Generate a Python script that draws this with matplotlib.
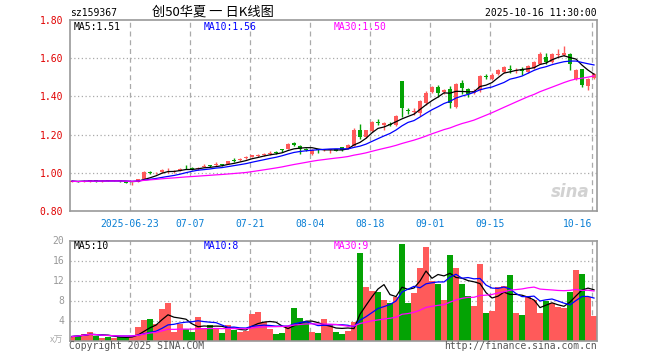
import matplotlib
matplotlib.use("Agg")
import matplotlib.pyplot as plt
import numpy as np
import pandas as pd

# ---------------- data ----------------
opens = [0.953, 0.956, 0.954, 0.956, 0.959, 0.955, 0.962, 0.957, 0.960, 0.955,
         0.944, 0.953, 0.968, 1.004, 0.997, 1.004, 1.008, 1.003, 1.012, 1.030,
         1.025, 1.018, 1.030, 1.037, 1.040, 1.045, 1.048, 1.066, 1.066, 1.077,
         1.085, 1.089, 1.094, 1.097, 1.108, 1.124, 1.125, 1.157, 1.140, 1.126,
         1.100, 1.122, 1.118, 1.117, 1.122, 1.133, 1.128, 1.140, 1.226, 1.185,
         1.218, 1.268, 1.250, 1.258, 1.250, 1.480, 1.330, 1.318, 1.313, 1.366,
         1.422, 1.450, 1.422, 1.439, 1.345, 1.471, 1.439, 1.420, 1.432, 1.508,
         1.492, 1.515, 1.530, 1.545, 1.535, 1.545, 1.530, 1.550, 1.572, 1.605,
         1.580, 1.615, 1.618, 1.622, 1.492, 1.542, 1.455, 1.497]
highs = [0.960, 0.958, 0.962, 0.963, 0.961, 0.962, 0.964, 0.963, 0.962, 0.957,
         0.950, 0.970, 1.008, 1.010, 1.004, 1.020, 1.026, 1.015, 1.026, 1.040,
         1.028, 1.030, 1.045, 1.040, 1.055, 1.048, 1.062, 1.075, 1.076, 1.086,
         1.094, 1.097, 1.104, 1.112, 1.112, 1.127, 1.155, 1.162, 1.145, 1.130,
         1.123, 1.126, 1.127, 1.125, 1.124, 1.135, 1.150, 1.232, 1.258, 1.226,
         1.273, 1.280, 1.268, 1.265, 1.302, 1.482, 1.340, 1.340, 1.383, 1.427,
         1.455, 1.462, 1.440, 1.453, 1.470, 1.488, 1.445, 1.440, 1.514, 1.515,
         1.520, 1.545, 1.560, 1.565, 1.550, 1.552, 1.565, 1.585, 1.630, 1.625,
         1.625, 1.650, 1.662, 1.628, 1.545, 1.545, 1.495, 1.522]
lows = [0.950, 0.950, 0.952, 0.953, 0.953, 0.953, 0.955, 0.955, 0.954, 0.944,
        0.934, 0.950, 0.966, 0.996, 0.993, 1.000, 0.998, 0.999, 1.008, 1.020,
        1.015, 1.015, 1.028, 1.030, 1.036, 1.038, 1.045, 1.057, 1.063, 1.072,
        1.082, 1.085, 1.090, 1.094, 1.100, 1.108, 1.122, 1.140, 1.098, 1.112,
        1.095, 1.105, 1.114, 1.105, 1.112, 1.115, 1.125, 1.138, 1.178, 1.180,
        1.215, 1.250, 1.225, 1.245, 1.245, 1.293, 1.310, 1.305, 1.296, 1.357,
        1.418, 1.397, 1.410, 1.340, 1.340, 1.410, 1.396, 1.412, 1.422, 1.490,
        1.488, 1.512, 1.525, 1.520, 1.525, 1.510, 1.520, 1.545, 1.570, 1.572,
        1.575, 1.605, 1.610, 1.540, 1.488, 1.450, 1.436, 1.492]
closes = [0.956, 0.953, 0.958, 0.959, 0.956, 0.959, 0.958, 0.960, 0.956, 0.948,
          0.947, 0.968, 1.006, 1.000, 1.000, 1.016, 1.010, 1.010, 1.022, 1.028,
          1.018, 1.026, 1.036, 1.035, 1.046, 1.042, 1.060, 1.063, 1.072, 1.082,
          1.091, 1.093, 1.101, 1.103, 1.106, 1.120, 1.152, 1.146, 1.122, 1.118,
          1.120, 1.118, 1.122, 1.122, 1.116, 1.120, 1.146, 1.226, 1.188, 1.222,
          1.265, 1.262, 1.262, 1.252, 1.296, 1.340, 1.325, 1.322, 1.375, 1.418,
          1.450, 1.418, 1.432, 1.366, 1.467, 1.446, 1.410, 1.430, 1.506, 1.502,
          1.514, 1.537, 1.552, 1.538, 1.540, 1.535, 1.558, 1.580, 1.622, 1.578,
          1.620, 1.620, 1.625, 1.572, 1.540, 1.462, 1.490, 1.518]
volumes = [0.8, 1.0, 1.4, 1.7, 1.0, 0.5, 0.7, 0.5, 0.7, 0.7,
           0.9, 2.7, 4.1, 4.3, 3.4, 6.3, 7.6, 1.7, 3.4, 2.3,
           1.7, 4.7, 2.4, 3.1, 2.5, 1.5, 3.1, 2.2, 1.7, 2.0,
           5.3, 5.7, 3.7, 2.3, 1.3, 1.6, 3.0, 6.5, 4.5, 3.7,
           1.7, 1.5, 4.3, 3.2, 1.8, 1.3, 1.9, 3.7, 17.5, 10.7,
           9.9, 9.7, 8.1, 7.5, 8.7, 19.3, 7.5, 9.5, 14.5, 18.7,
           12.0, 11.3, 8.1, 17.1, 14.5, 11.3, 8.9, 6.9, 15.3, 5.5,
           5.9, 10.7, 10.9, 13.1, 5.5, 5.1, 8.7, 8.1, 5.5, 7.9,
           7.5, 6.7, 6.6, 9.7, 14.1, 13.3, 8.7, 4.9]

tick_dates = ["2025-06-23", "2025-07-07", "2025-07-21", "2025-08-04",
              "2025-08-18", "2025-09-01", "2025-09-15", "2025-10-16"]
tick_labels = ["2025-06-23", "07-07", "07-21", "08-04", "08-18", "09-01", "09-15", "10-16"]
price_ticks = [0.80, 1.00, 1.20, 1.40, 1.60, 1.80]
price_tick_labels = ["0.80", "1.00", "1.20", "1.40", "1.60", "1.80"]
vol_ticks = [4, 8, 12, 16, 20]

code_text = "sz159367"
title_text = "创50华夏 一 日K线图"
time_text = "2025-10-16 11:30:00"
ma_price_labels = ["MA5:1.51", "MA10:1.56", "MA30:1.50"]
ma_vol_labels = ["MA5:10", "MA10:8", "MA30:9"]

# trading calendar
holidays = pd.date_range("2025-10-01", "2025-10-08")
days = pd.bdate_range("2025-06-09", "2025-10-16")
days = days[~days.isin(holidays)]

# ---------------- styling ----------------
RED = "#ff5a5a"
GREEN = "#04a304"
BORDER = "#999999"
GRID = "#aaaaaa"
MONO = "DejaVu Sans Mono"
FS = 7

W, H = 660, 360
fig = plt.figure(figsize=(W / 100, H / 100), dpi=100)
fig.patch.set_facecolor("white")

ax = fig.add_axes([70 / W, 1 - 211 / H, 527 / W, 191 / H])
axv = fig.add_axes([70 / W, 1 - 340.5 / H, 527 / W, 100 / H])

o = np.array(opens); h = np.array(highs); l = np.array(lows); c = np.array(closes)
v = np.array(volumes)
idx = np.arange(len(c))
up = c >= o
col = np.where(up, RED, GREEN)

xlim = (-0.33, len(c) - 0.5)
tick_pos = days.get_indexer(pd.to_datetime(tick_dates)) - 0.33

for a in (ax, axv):
    a.set_xlim(*xlim)
    for s in a.spines.values():
        s.set_color(BORDER)
        s.set_linewidth(1.2)
    for xp in tick_pos:
        a.axvline(xp, color=GRID, lw=0.9, ls=(0, (4, 3)), zorder=0)
    a.tick_params(length=0)

# main price panel
ax.set_ylim(0.8, 1.8)
for yv in price_ticks[1:-1]:
    ax.axhline(yv, color=GRID, lw=0.9, ls=(0, (1, 2)), zorder=0)

ax.vlines(idx, l, h, colors=col, lw=1, zorder=2)
body = np.maximum(np.abs(c - o), 0.004)
ax.bar(idx, body, bottom=np.minimum(o, c), width=0.78, color=col, linewidth=0, zorder=3)

cs = pd.Series(c)
ax.plot(idx, cs.rolling(5, min_periods=1).mean(), color="black", lw=0.9, zorder=4)
ax.plot(idx, cs.rolling(10, min_periods=1).mean(), color="#0000ff", lw=0.9, zorder=4)
ax.plot(idx, cs.rolling(30, min_periods=1).mean(), color="#ff00ff", lw=0.9, zorder=4)

ax.set_yticks(price_ticks)
ax.set_yticklabels(price_tick_labels, fontfamily=MONO, fontsize=FS, color="#e00000")
ax.tick_params(axis="y", pad=5)
ax.set_xticks(tick_pos)
ax.set_xticklabels(tick_labels, fontfamily=MONO, fontsize=FS, color="#0a7fd4")
ax.tick_params(axis="x", pad=6)
ax.get_xticklabels()[-1].set_horizontalalignment("right")

# watermark
ax.text(0.985, 0.10, "sina", transform=ax.transAxes, ha="right", va="center",
        fontsize=12, fontstyle="italic", fontweight="bold", color="#d2d2d2", zorder=1)

# volume panel
axv.set_ylim(0, 20)
for yv in vol_ticks[:-1]:
    axv.axhline(yv, color=GRID, lw=0.9, ls=(0, (1, 2)), zorder=0)
axv.bar(idx, v, width=0.85, color=col, linewidth=0, zorder=2)
vs = pd.Series(v)
axv.plot(idx, vs.rolling(5, min_periods=1).mean(), color="black", lw=0.9, zorder=4)
axv.plot(idx, vs.rolling(10, min_periods=1).mean(), color="#0000ff", lw=0.9, zorder=4)
axv.plot(idx, vs.rolling(30, min_periods=1).mean(), color="#ff00ff", lw=0.9, zorder=4)
axv.set_yticks(vol_ticks)
axv.set_yticklabels([str(t) for t in vol_ticks], fontfamily=MONO, fontsize=FS, color="#999999")
axv.tick_params(axis="y", pad=4)
axv.set_xticks([])

# ---------------- texts ----------------
def px(x, y):
    return x / W, 1 - y / H

fig.text(*px(70, 13), code_text, fontfamily=MONO, fontsize=FS, ha="left", va="center", color="black")
fig.text(*px(213, 12.5), title_text, family=["Noto Sans CJK SC", "DejaVu Sans"], fontsize=9.5,
         ha="center", va="center", color="black")
fig.text(*px(597, 13), time_text, fontfamily=MONO, fontsize=FS, ha="right", va="center", color="black")

ma_colors = ["black", "#0000ff", "#ff00ff"]
ma_x = [74, 204, 334]
for lab, cc, xx in zip(ma_price_labels, ma_colors, ma_x):
    fig.text(*px(xx, 26.5), lab, fontfamily=MONO, fontsize=FS, ha="left", va="center", color=cc)
for lab, cc, xx in zip(ma_vol_labels, ma_colors, ma_x):
    fig.text(*px(xx, 246), lab, fontfamily=MONO, fontsize=FS, ha="left", va="center", color=cc)

fig.text(*px(63, 340), "x万", family=["Noto Sans CJK SC", "DejaVu Sans"], fontsize=6.5,
         fontstyle="italic", ha="right", va="center", color="#aaaaaa")
fig.text(*px(69, 346), "Copyright 2025 SINA.COM", fontfamily=MONO, fontsize=FS,
         ha="left", va="center", color="#555555")
fig.text(*px(597, 346), "http://finance.sina.com.cn", fontfamily=MONO, fontsize=FS,
         ha="right", va="center", color="#555555")

fig.savefig("out.png", dpi=100, facecolor="white")
